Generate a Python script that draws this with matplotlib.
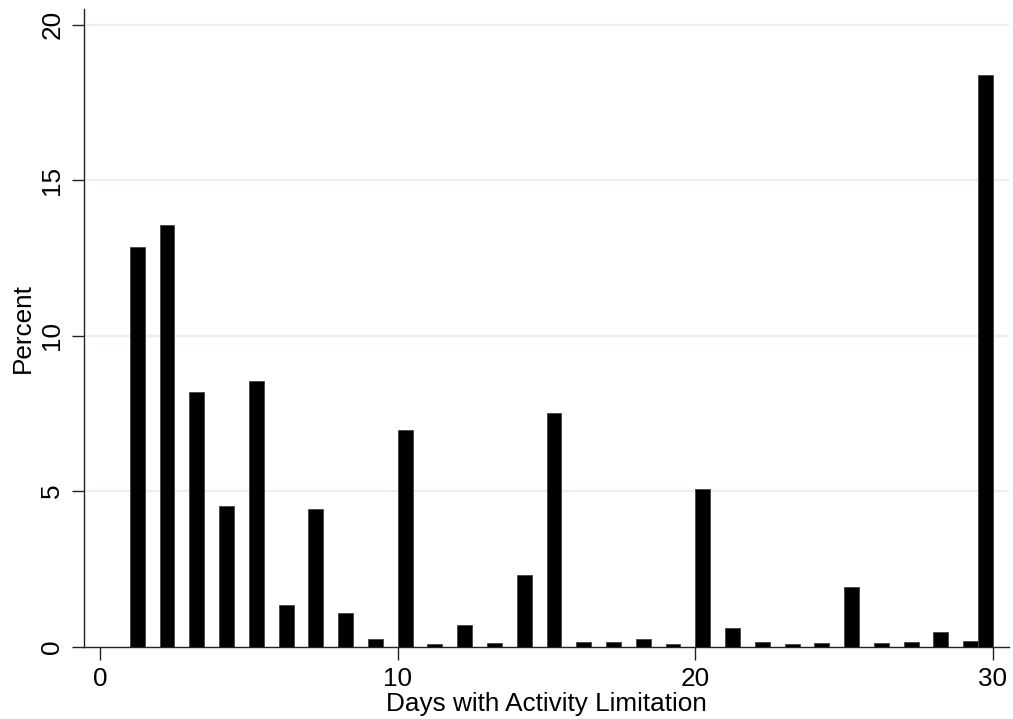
import numpy as np
import matplotlib
matplotlib.use("Agg")
import matplotlib.pyplot as plt

plt.rcParams['font.family'] = ['Liberation Sans', 'DejaVu Sans']

days = list(range(1, 31))
percent = [12.85, 13.56, 8.20, 4.52, 8.54, 1.33, 4.41, 1.09, 0.23, 6.96,
           0.09, 0.68, 0.11, 2.29, 7.50, 0.16, 0.14, 0.23, 0.08, 5.08,
           0.59, 0.13, 0.09, 0.10, 1.93, 0.11, 0.16, 0.46, 0.17, 18.37]
xticks = [0, 10, 20, 30]
yticks = [0, 5, 10, 15, 20]

fig = plt.figure(figsize=(10.13, 7.19), dpi=100)
ax = fig.add_axes([0.0832, 0.1008, 0.9961 - 0.0832, 0.9875 - 0.1008])

bins = np.linspace(1, 30, 59)
ax.hist(days, bins=bins, weights=percent, color='black',
        edgecolor='#444444', linewidth=0.6, zorder=3)

ax.set_xlim(-0.53, 30.54)
ax.set_ylim(0, 20.5)
ax.set_xticks(xticks)
ax.set_yticks(yticks)
for y in yticks[1:]:
    ax.axhline(y, color='#e8f0f1', linewidth=1.6, zorder=1)

for s in ['top', 'right']:
    ax.spines[s].set_visible(False)
for s in ['left', 'bottom']:
    ax.spines[s].set_color('#222222')
    ax.spines[s].set_linewidth(1.0)

FS = 18.8
ax.tick_params(axis='both', direction='out', length=9, width=1.0,
               color='#222222', labelsize=FS, pad=5.5)
ax.tick_params(axis='y', labelrotation=90)
for lbl in ax.get_yticklabels():
    lbl.set_verticalalignment('center')

ax.set_xlabel('Days with Activity Limitation', fontsize=FS, labelpad=1)
ax.set_ylabel('Percent', fontsize=FS, labelpad=4)

fig.savefig('out.png', dpi=100, facecolor='white')
